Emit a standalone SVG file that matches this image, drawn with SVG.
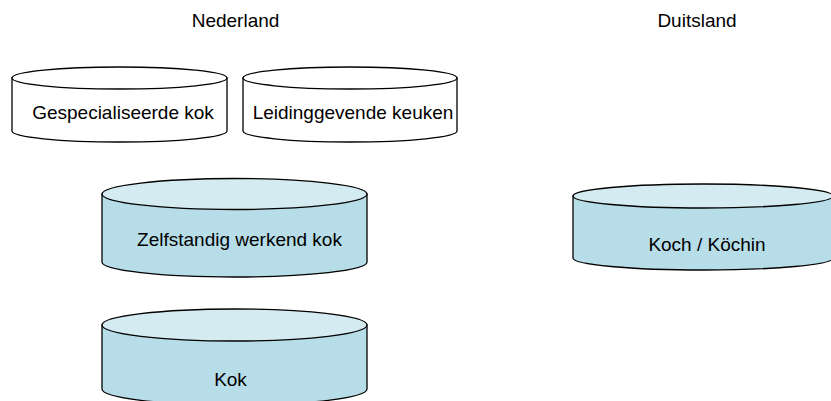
<svg xmlns="http://www.w3.org/2000/svg" width="831" height="401" viewBox="0 0 831 401">
  <style>
    .lbl { font-family: "Liberation Sans", Arial, sans-serif; font-size: 19px; fill: #000; }
    .cyl { stroke: #000; stroke-width: 1.3; }
    .white .side, .white .top { fill: #ffffff; }
    .blue .side { fill: #b7dde8; }
    .blue .top { fill: #d3ebf1; }
  </style>
  <rect width="831" height="401" fill="#ffffff"/>

  <!-- column headings -->
  <text class="lbl" x="235.5" y="27" text-anchor="middle">Nederland</text>
  <text class="lbl" x="697" y="27" text-anchor="middle">Duitsland</text>

  <!-- cylinders: side body + top ellipse -->
  <g id="gespecialiseerde-kok" class="white">
    <path class="cyl side" d="M12,78 L12,131 A107.5,11 0 0 0 227,131 L227,78 Z"/>
    <ellipse class="cyl top" cx="119.5" cy="78" rx="107.5" ry="11"/>
    <text class="lbl" x="123" y="119" text-anchor="middle">Gespecialiseerde kok</text>
  </g>

  <g id="leidinggevende-keuken" class="white">
    <path class="cyl side" d="M243,78 L243,131 A107,11 0 0 0 457,131 L457,78 Z"/>
    <ellipse class="cyl top" cx="350" cy="78" rx="107" ry="11"/>
    <text class="lbl" x="353" y="119" text-anchor="middle">Leidinggevende keuken</text>
  </g>

  <g id="zelfstandig-werkend-kok" class="blue">
    <path class="cyl side" d="M102,194 L102,262 A132.5,15 0 0 0 367,262 L367,194 Z"/>
    <ellipse class="cyl top" cx="234.5" cy="194" rx="132.5" ry="15.5"/>
    <text class="lbl" x="239.5" y="246" text-anchor="middle">Zelfstandig werkend kok</text>
  </g>

  <g id="koch-koechin" class="blue">
    <path class="cyl side" d="M573,196 L573,258 A130,12 0 0 0 833,258 L833,196 Z"/>
    <ellipse class="cyl top" cx="703" cy="196" rx="130" ry="12"/>
    <text class="lbl" x="707" y="251" text-anchor="middle">Koch / Köchin</text>
  </g>

  <g id="kok" class="blue">
    <path class="cyl side" d="M102,325 L102,389 A132.5,16 0 0 0 367,389 L367,325 Z"/>
    <ellipse class="cyl top" cx="234.5" cy="325" rx="132.5" ry="16"/>
    <text class="lbl" x="230.5" y="386" text-anchor="middle">Kok</text>
  </g>

  <g id="connectors"/>
</svg>
